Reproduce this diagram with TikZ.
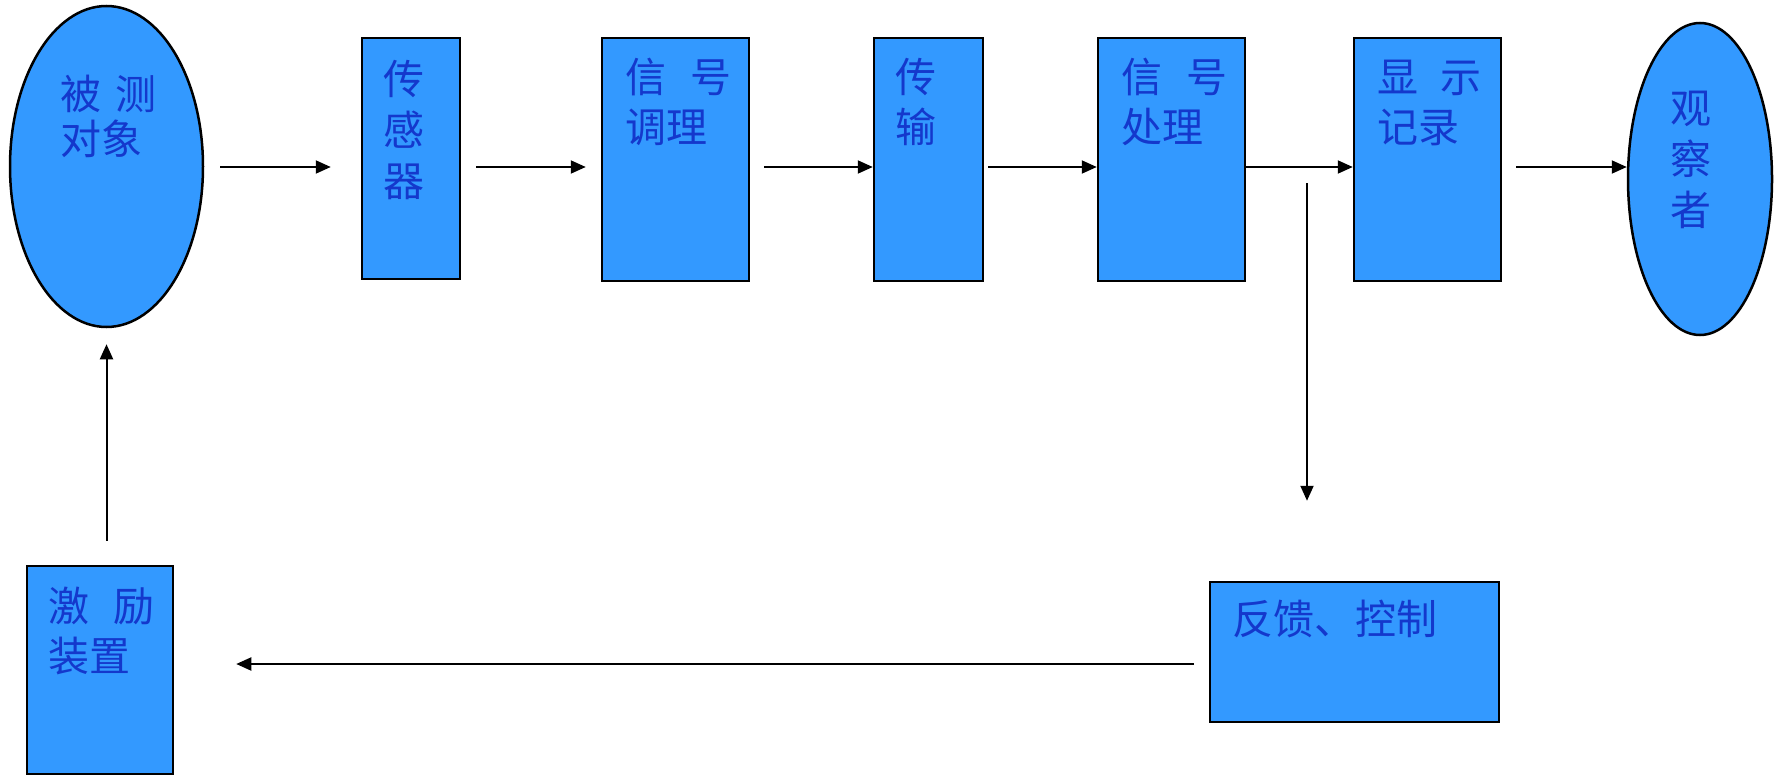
\documentclass[tikz,border=0pt]{standalone}
\usepackage{fontspec}
\newfontfamily\cjk{Noto Sans CJK SC}
\usetikzlibrary{arrows.meta,shapes.geometric,calc}
\definecolor{boxblue}{HTML}{3399FF}
\definecolor{txtblue}{HTML}{1438CC}
\begin{document}
\begin{tikzpicture}[x=1pt,y=-1pt,
  blk/.style={draw=black,line width=2.5pt,fill=boxblue,rectangle,inner sep=0pt},
  oval/.style={draw=black,line width=2.5pt,fill=boxblue,ellipse,inner sep=0pt},
  lbl/.style={anchor=north west,inner sep=0pt,text=txtblue,font=\cjk\fontsize{41}{50}\selectfont,align=left},
  arr/.style={-{Triangle[length=15pt,width=13pt]},line width=2pt}]
\useasboundingbox[fill=white] (0,0) rectangle (1777,776);
% shapes
\node[oval,minimum width=193pt,minimum height=321pt] (obj) at (106.5,166.5) {};
\node[blk,minimum width=98pt,minimum height=241pt] (sen) at (411,158.5) {};
\node[blk,minimum width=147pt,minimum height=243pt] (sig) at (675.5,159.5) {};
\node[blk,minimum width=109pt,minimum height=243pt] (trn) at (928.5,159.5) {};
\node[blk,minimum width=147pt,minimum height=243pt] (prc) at (1171.5,159.5) {};
\node[blk,minimum width=147pt,minimum height=243pt] (dsp) at (1427.5,159.5) {};
\node[oval,minimum width=144pt,minimum height=312pt] (obs) at (1700,179) {};
\node[blk,minimum width=146pt,minimum height=208pt] (exc) at (100,670) {};
\node[blk,minimum width=289pt,minimum height=140pt] (fb) at (1354.5,652) {};
% texts
\node[lbl,font=\cjk\fontsize{41}{45}\selectfont] (tobj) at (60,75) {被\hspace{14pt}测\\对象};
\node[lbl,font=\cjk\fontsize{41}{51}\selectfont] (tsen) at (383,60) {传\\感\\器};
\node[lbl] (tsig) at (625,58) {信\hspace{24pt}号\\调理};
\node[lbl] (ttrn) at (895,58) {传\\输};
\node[lbl] (tprc) at (1121,58) {信\hspace{24pt}号\\处理};
\node[lbl] (tdsp) at (1377,60) {显\hspace{22pt}示\\记录};
\node[lbl,font=\cjk\fontsize{41}{51}\selectfont] (tobs) at (1670,91) {观\\察\\者};
\node[lbl] (texc) at (48,587) {激\hspace{24pt}励\\装置};
\node[lbl] (tfb) at (1232,600) {反馈、控制};
% connectors
\coordinate (row) at (0,167);
\draw[arr,shorten <=16pt,shorten >=30pt] (obj.east |- row) -- (sen.west |- row);
\draw[arr,shorten <=15pt,shorten >=15pt] (sen.east |- row) -- (sig.west |- row);
\draw[arr,shorten <=14pt] (sig.east |- row) -- (trn.west |- row);
\draw[arr,shorten <=4pt] (trn.east |- row) -- (prc.west |- row);
\draw[arr] (prc.east |- row) -- (dsp.west |- row);
\draw[arr,shorten <=14pt] (dsp.east |- row) -- (obs.west |- row);
\coordinate (tap) at (1307,183);
\draw[arr,shorten >=80pt] (tap) -- (tap |- fb.north);
\coordinate (fbout) at (1194,664);
\draw[arr,shorten >=62pt] (fbout) -- (exc.east |- fbout);
\draw[arr,shorten <=24pt,shorten >=16pt] (obj.south |- exc.north) -- (obj.south);
\end{tikzpicture}
\end{document}
